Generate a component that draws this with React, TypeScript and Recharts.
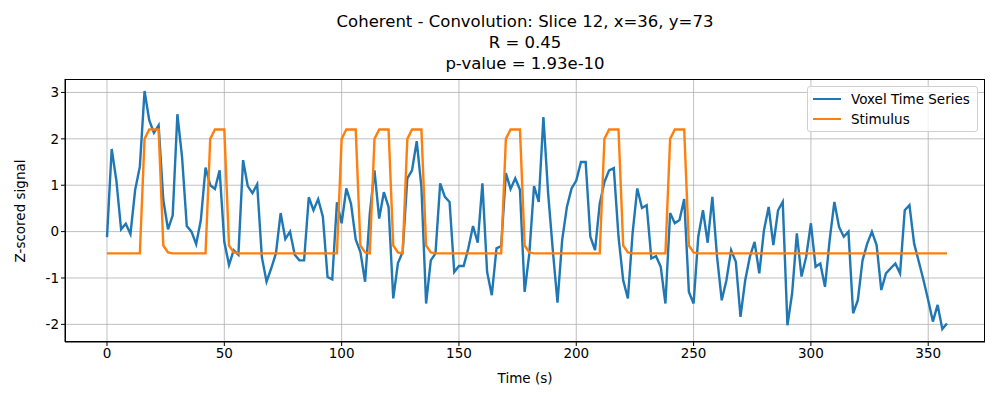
import React from 'react';
import { LineChart, Line, XAxis, YAxis, CartesianGrid } from 'recharts';

const voxel = [
  -0.12, 1.78, 1.1, 0.05, 0.17, -0.05, 0.9, 1.4, 3.03, 2.4,
  2.13, 2.29, 0.68, 0.05, 0.35, 2.53, 1.6, 0.12, 0, -0.27,
  0.25, 1.38, 1.0, 0.92, 1.32, -0.22, -0.72, -0.4, -0.5, 1.54,
  0.98, 0.83, 1.02, -0.55, -1.08, -0.79, -0.47, 0.4, -0.16, 0,
  -0.5, -0.62, -0.62, 0.74, 0.46, 0.7, 0.32, -0.98, -1.03, 0.63,
  0.18, 0.93, 0.6, -0.17, -0.44, -1.08, 0.38, 1.32, 0.28, 0.85,
  0.53, -1.44, -0.68, -0.44, 1.15, 1.32, 1.95, 0.96, -1.55, -0.62,
  -0.47, 1.04, 0.75, 0.64, -0.87, -0.74, -0.74, -0.36, 0.12, -0.24,
  1.04, -0.87, -1.37, -0.36, -0.31, 1.26, 0.92, 1.15, 0.9, -1.3,
  -0.47, 0.98, 0.64, 2.47, 0.83, -0.4, -1.53, -0.18, 0.53, 0.93,
  1.1, 1.5, 1.5, -0.11, -0.4, 0.6, 1.07, 1.32, 1.37, -0.11,
  -1.05, -1.44, -0.04, 0.93, 0.51, 0.57, -0.58, -0.53, -0.76, -1.55,
  0.4, 0.18, 0.25, 0.7, -1.3, -1.55, -0.11, 0.46, -0.24, 0.75,
  -0.54, -1.48, -1.05, -0.4, -0.65, -1.84, -1.05, -0.54, -0.22, -0.9,
  0.03, 0.53, -0.29, 0.46, 0.64, -2.02, -1.33, -0.04, -0.97, -0.54,
  0.18, -0.76, -0.69, -1.19, -0.18, 0.64, 0.1, -0.11, 0, -1.76,
  -1.48, -0.62, -0.26, 0, -0.29, -1.26, -0.9, -0.79, -0.69, -0.9,
  0.46, 0.57, -0.26, -0.65, -1.05, -1.48, -1.94, -1.58, -2.1, -1.98,
];

const B = -0.47;
const stimulus = [
  B, B, B, B, B, B, B, B, 2.0, 2.2,
  2.2, 2.2, -0.3, -0.45, B, B, B, B, B, B,
  B, B, 2.0, 2.2, 2.2, 2.2, -0.3, -0.45, B, B,
  B, B, B, B, B, B, B, B, B, B,
  B, B, B, B, B, B, B, B, B, B,
  2.0, 2.2, 2.2, 2.2, -0.3, -0.45, B, 2.0, 2.2, 2.2,
  2.2, -0.3, -0.45, B, 2.0, 2.2, 2.2, 2.2, -0.3, -0.45,
  B, B, B, B, B, B, B, B, B, B,
  B, B, B, B, B, 2.0, 2.2, 2.2, 2.2, -0.3,
  -0.45, B, B, B, B, B, B, B, B, B,
  B, B, B, B, B, B, 2.0, 2.2, 2.2, 2.2,
  -0.3, -0.45, B, B, B, B, B, B, B, B,
  2.0, 2.2, 2.2, 2.2, -0.3, -0.45, B, B, B, B,
  B, B, B, B, B, B, B, B, B, B,
  B, B, B, B, B, B, B, B, B, B,
  B, B, B, B, B, B, B, B, B, B,
  B, B, B, B, B, B, B, B, B, B,
  B, B, B, B, B, B, B, B, B, B,
];

const xTicks = [0, 50, 100, 150, 200, 250, 300, 350];
const yTicks = [-2, -1, 0, 1, 2, 3];
const titleLines = ['Coherent - Convolution: Slice 12, x=36, y=73', 'R = 0.45', 'p-value = 1.93e-10'];

const data = voxel.map((v, i) => ({ t: i * 2, voxel: v, stimulus: stimulus[i] }));

const font = 'DejaVu Sans, sans-serif';
const tickStyle = { fill: '#000', fontSize: 13.5, fontFamily: font };

export default function App() {
  return (
    <div style={{ position: 'absolute', left: 0, top: 0, width: 1000, height: 400, background: '#fff', fontFamily: font }}>
      <LineChart width={1000} height={400} data={data} margin={{ top: 79, right: 15, bottom: 28, left: 15 }}>
        <CartesianGrid stroke="#b0b0b0" strokeWidth={0.8} horizontalValues={yTicks} verticalValues={xTicks} />
        <XAxis dataKey="t" type="number" domain={[-17.9, 374.2]} ticks={xTicks} allowDataOverflow
          tick={tickStyle} stroke="#000" tickSize={4} height={30} />
        <YAxis type="number" domain={[-2.38, 3.29]} ticks={yTicks} allowDataOverflow
          tick={tickStyle} stroke="#000" tickSize={4} width={50} />
        <Line dataKey="voxel" stroke="#1f77b4" strokeWidth={2.4} dot={false} isAnimationActive={false} />
        <Line dataKey="stimulus" stroke="#ff7f0e" strokeWidth={2.4} dot={false} isAnimationActive={false} />
      </LineChart>
      <div style={{ position: 'absolute', left: 65, top: 79, width: 920, height: 263, border: '1px solid #000', boxSizing: 'border-box', pointerEvents: 'none' }} />
      {titleLines.map((s, i) => (
        <div key={i} style={{ position: 'absolute', left: 65, width: 920, top: 12 + i * 21, textAlign: 'center', fontSize: 16.5, lineHeight: '20px' }}>{s}</div>
      ))}
      <div style={{ position: 'absolute', left: 65, width: 920, top: 370, textAlign: 'center', fontSize: 13.5 }}>Time (s)</div>
      <div style={{ position: 'absolute', left: 20, top: 211, fontSize: 13.5, transform: 'translate(-50%, -50%) rotate(-90deg)', whiteSpace: 'nowrap' }}>Z-scored signal</div>
      <div style={{ position: 'absolute', left: 807, top: 86, width: 169, height: 44, border: '1px solid #d0d0d0', borderRadius: 3, background: 'rgba(255,255,255,0.8)', fontSize: 13.5 }}>
        {[['Voxel Time Series', '#1f77b4'], ['Stimulus', '#ff7f0e']].map(([n, c], i) => (
          <div key={n} style={{ position: 'absolute', left: 5, top: 3 + i * 20, display: 'flex', alignItems: 'center', height: 18 }}>
            <span style={{ display: 'inline-block', width: 28, height: 2, background: c, marginRight: 10 }} />
            <span>{n}</span>
          </div>
        ))}
      </div>
    </div>
  );
}
